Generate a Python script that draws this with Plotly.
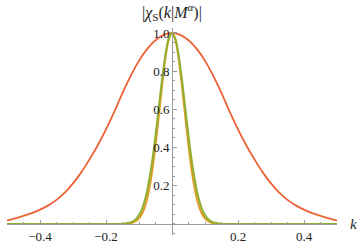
import plotly.graph_objects as go

# Wide curve (red-orange)
k_wide = [-0.5, -0.475, -0.45, -0.425, -0.4, -0.375, -0.35, -0.325, -0.3, -0.275, -0.25,
          -0.225, -0.2, -0.175, -0.15, -0.125, -0.1, -0.075, -0.05, -0.025, 0.0,
          0.025, 0.05, 0.075, 0.1, 0.125, 0.15, 0.175, 0.2, 0.225, 0.25,
          0.275, 0.3, 0.325, 0.35, 0.375, 0.4, 0.425, 0.45, 0.475, 0.5]
v_wide = [0.018, 0.029, 0.042, 0.057, 0.075, 0.097, 0.126, 0.164, 0.212, 0.27, 0.338,
          0.412, 0.495, 0.587, 0.685, 0.775, 0.855, 0.917, 0.962, 0.99, 1.0,
          0.99, 0.962, 0.917, 0.855, 0.775, 0.685, 0.587, 0.495, 0.412, 0.338,
          0.27, 0.212, 0.164, 0.126, 0.097, 0.075, 0.057, 0.042, 0.029, 0.018]

# Narrow curves
k_narrow = [-0.5, -0.3, -0.2, -0.15, -0.13, -0.12, -0.11, -0.1, -0.09, -0.08, -0.07, -0.06,
            -0.05, -0.04, -0.03, -0.02, -0.01, 0.0, 0.01, 0.02, 0.03, 0.04, 0.05, 0.06,
            0.07, 0.08, 0.09, 0.1, 0.11, 0.12, 0.13, 0.15, 0.2, 0.3, 0.5]
v_orange = [0.0, 0.0, 0.0, 0.0, 0.002, 0.006, 0.014, 0.029, 0.056, 0.102, 0.175, 0.277,
            0.41, 0.566, 0.726, 0.867, 0.965, 1.0, 0.965, 0.867, 0.726, 0.566, 0.41, 0.277,
            0.175, 0.102, 0.056, 0.029, 0.014, 0.006, 0.002, 0.0, 0.0, 0.0, 0.0]
v_green = [0.0, 0.0, 0.0, 0.001, 0.006, 0.012, 0.024, 0.046, 0.083, 0.139, 0.221, 0.33,
           0.463, 0.611, 0.758, 0.884, 0.97, 1.0, 0.97, 0.884, 0.758, 0.611, 0.463, 0.33,
           0.221, 0.139, 0.083, 0.046, 0.024, 0.012, 0.006, 0.001, 0.0, 0.0, 0.0]

x_ticks = [-0.4, -0.2, 0.2, 0.4]
x_ticktext = ["\u22120.4", "\u22120.2", "0.2", "0.4"]
y_ticks = [0.2, 0.4, 0.6, 0.8, 1.0]
y_ticktext = ["0.2", "0.4", "0.6", "0.8", "1.0"]

XR = [-0.5, 0.5]
YR = [-0.058, 1.026]
AX = "#9a9a9a"
FONT = "Liberation Serif"
TXT = "#222222"

fig = go.Figure()
fig.add_trace(go.Scatter(x=k_wide, y=v_wide, mode="lines",
                         line=dict(color="#EB6235", width=1.8, shape="spline"),
                         showlegend=False, hoverinfo="skip"))
fig.add_trace(go.Scatter(x=k_narrow, y=v_orange, mode="lines",
                         line=dict(color="#E19C24", width=2, shape="spline"),
                         showlegend=False, hoverinfo="skip"))
fig.add_trace(go.Scatter(x=k_narrow, y=v_green, mode="lines",
                         line=dict(color="#8FB032", width=2, shape="spline"),
                         showlegend=False, hoverinfo="skip"))

fig.update_layout(
    width=361, height=243,
    margin=dict(l=7, r=24, t=28, b=8, autoexpand=False),
    paper_bgcolor="white", plot_bgcolor="white",
    font=dict(family=FONT, size=13, color=TXT),
    hovermode=False,
    xaxis=dict(range=XR, anchor="free", position=(0 - YR[0]) / (YR[1] - YR[0]),
               automargin=False,
               showgrid=False, zeroline=False, showline=True, linecolor=AX, linewidth=1,
               ticks="inside", ticklen=4, tickcolor=AX, tickwidth=1,
               tickvals=x_ticks, ticktext=x_ticktext,
               minor=dict(ticks="inside", ticklen=2, tickcolor=AX, dtick=0.05, tick0=0),
               tickfont=dict(family=FONT, size=13, color=TXT)),
    yaxis=dict(range=YR, anchor="free", position=0.5, side="left",
               automargin=False,
               showgrid=False, zeroline=False, showline=True, linecolor=AX, linewidth=1,
               ticks="inside", ticklen=4, tickcolor=AX, tickwidth=1,
               tickvals=y_ticks, ticktext=y_ticktext,
               minor=dict(ticks="inside", ticklen=2, tickcolor=AX, dtick=0.05, tick0=0),
               tickfont=dict(family=FONT, size=13, color=TXT)),
    annotations=[
        dict(text="|<i>χ</i><sub>S</sub>(<i>k</i>|<i>M</i><sup><i>α</i></sup>)|",
             x=0.0, xref="x", y=1, yref="paper", yshift=16, yanchor="middle",
             xanchor="center", showarrow=False,
             font=dict(family=FONT, size=16, color=TXT)),
        dict(text="<i>k</i>", x=1.0, xref="paper", xshift=16, y=0, yref="y",
             xanchor="center", yanchor="middle", showarrow=False,
             font=dict(family=FONT, size=15, color=TXT)),
    ],
)

fig.write_html("out.html", config={"displayModeBar": False, "staticPlot": True},
               post_script="document.body.style.margin='0';")
